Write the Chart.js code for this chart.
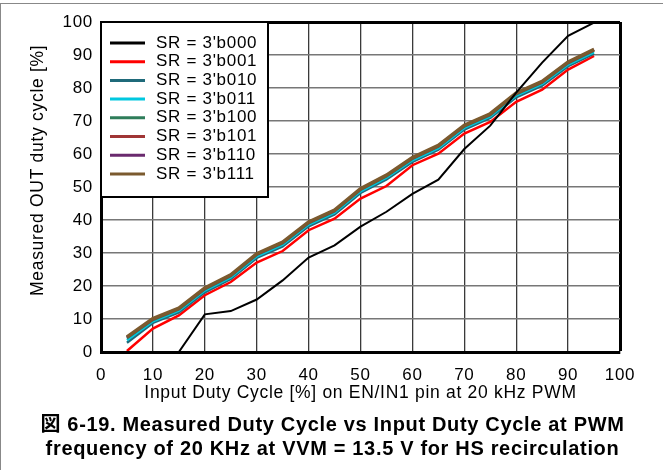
<!DOCTYPE html>
<html>
<head>
<meta charset="utf-8">
<script src="https://cdn.jsdelivr.net/npm/chart.js@4.4.1/dist/chart.umd.min.js"></script>
<style>
    body { margin: 0; background: #fff; overflow: hidden; }
    #wrap { position: relative; width: 663px; height: 470px; }
    #frame { position: absolute; left: 0; top: 3px; width: 663px; height: 467px;
             border-top: 1.5px solid #888; border-left: 1.5px solid #888; box-sizing: border-box; pointer-events: none; }
    #caption { position: absolute; left: 0; top: 412px; width: 663px; text-align: center;
               font: bold 20px/24px "Liberation Sans", Arial, "Noto Sans CJK JP", sans-serif;
               letter-spacing: 0.67px; color: #000; padding-left: 2px; box-sizing: border-box; }
</style>
</head>
<body>
<div id="wrap">
    <canvas id="chart"></canvas>
    <div id="frame"></div>
    <div id="caption">図 6-19. Measured Duty Cycle vs Input Duty Cycle at PWM<br>frequency of 20 KHz at VVM = 13.5 V for HS recirculation</div>
</div>
<script>
const inputDuty = [5, 10, 15, 20, 25, 30, 35, 40, 45, 50, 55, 60, 65, 70, 75, 80, 85, 90, 95];

const sr000 = [0, 0, 0, 11.4, 12.4, 15.9, 21.7, 28.6, 32.3, 38.0, 42.5, 47.9, 52.2, 61.5, 68.6, 78.6, 87.7, 95.8, 99.8];
const sr001 = [0.3, 7.1, 11.1, 17.2, 21.2, 27.1, 30.6, 36.9, 40.4, 46.5, 50.3, 56.6, 60.1, 66.2, 69.7, 75.8, 79.5, 85.6, 89.7];
const sr010 = [2.8, 8.8, 12.0, 18.1, 22.1, 28.5, 32.0, 38.1, 41.7, 48.2, 52.3, 57.6, 61.3, 67.4, 70.9, 77.2, 80.7, 86.6, 90.4];
const sr011 = [3.6, 9.3, 12.5, 18.6, 22.6, 29.0, 32.5, 38.6, 42.2, 48.7, 52.8, 58.1, 61.8, 67.9, 71.4, 77.7, 81.2, 87.1, 90.9];
const sr100 = [4.2, 9.7, 12.9, 19.0, 23.0, 29.4, 32.9, 39.0, 42.6, 49.1, 53.2, 58.5, 62.2, 68.3, 71.8, 78.1, 81.6, 87.5, 91.3];
const sr101 = [4.4, 9.9, 13.1, 19.2, 23.2, 29.6, 33.1, 39.2, 42.8, 49.3, 53.4, 58.7, 62.4, 68.5, 72.0, 78.3, 81.8, 87.7, 91.5];
const sr110 = [4.5, 10.0, 13.2, 19.3, 23.3, 29.7, 33.2, 39.3, 42.9, 49.4, 53.5, 58.8, 62.5, 68.6, 72.1, 78.4, 81.9, 87.8, 91.6];
const sr111 = [4.6, 10.1, 13.3, 19.4, 23.4, 29.8, 33.3, 39.4, 43.0, 49.5, 53.6, 58.9, 62.6, 68.7, 72.2, 78.5, 82.0, 87.9, 91.7];

const seriesLabels = ["SR = 3'b000", "SR = 3'b001", "SR = 3'b010", "SR = 3'b011",
                      "SR = 3'b100", "SR = 3'b101", "SR = 3'b110", "SR = 3'b111"];
const xTicks = [0, 10, 20, 30, 40, 50, 60, 70, 80, 90, 100];
const yTicks = [0, 10, 20, 30, 40, 50, 60, 70, 80, 90, 100];

const FONT = '"Liberation Sans", Arial, sans-serif';
const SPACING = '0.7px';

function pts(values) {
    return values.map((v, i) => ({ x: inputDuty[i], y: v }));
}

// the source figure has wide-set text, so spread the letters a bit
const spacedText = {
    id: 'spacedText',
    beforeLayout(chart) { chart.ctx.letterSpacing = SPACING; },
    beforeDraw(chart) { chart.ctx.letterSpacing = SPACING; }
};

// legend box drawn inside the plot, top-left
const legendBox = {
    id: 'legendBox',
    afterDatasetsDraw(chart) {
        const { ctx, chartArea } = chart;
        const x0 = chartArea.left, y0 = chartArea.top;
        ctx.save();
        ctx.fillStyle = '#fff';
        ctx.fillRect(x0, y0, 167, 175);
        ctx.strokeStyle = '#000';
        ctx.lineWidth = 2;
        ctx.strokeRect(x0, y0, 167, 175);
        ctx.font = '17px ' + FONT;
        ctx.letterSpacing = SPACING;
        ctx.textBaseline = 'middle';
        chart.data.datasets.forEach((ds, i) => {
            const y = y0 + 21 + i * 18.7;
            ctx.strokeStyle = ds.borderColor;
            ctx.lineWidth = 3;
            ctx.beginPath();
            ctx.moveTo(x0 + 9, y);
            ctx.lineTo(x0 + 44, y);
            ctx.stroke();
            ctx.fillStyle = '#000';
            ctx.fillText(ds.label, x0 + 55, y);
        });
        ctx.restore();
    }
};

const colors = ['#000000', '#ff0000', '#1f6a7a', '#00c8e0', '#2e7d5a', '#a03535', '#6a2a6e', '#7b5a2e'];
const widths = [2, 2.5, 2.5, 2.5, 2.5, 2.5, 2.5, 3.5];
const orders = [0, 7, 6, 5, 4, 3, 2, 1];
const allSeries = [sr000, sr001, sr010, sr011, sr100, sr101, sr110, sr111];

new Chart(document.getElementById('chart'), {
    type: 'line',
    data: {
        datasets: allSeries.map((s, i) => ({
            label: seriesLabels[i],
            data: pts(s),
            borderColor: colors[i],
            backgroundColor: colors[i],
            borderWidth: widths[i],
            pointRadius: 0,
            tension: 0,
            order: orders[i]
        }))
    },
    options: {
        responsive: true,
        maintainAspectRatio: false,
        animation: false,
        layout: { padding: { left: 28, right: 43, top: 22, bottom: 68 } },
        plugins: {
            legend: { display: false },
            tooltip: { enabled: false }
        },
        scales: {
            x: {
                type: 'linear',
                min: 0,
                max: 100,
                afterFit(scale) { scale.height = 50; },
                afterBuildTicks(scale) { scale.ticks = xTicks.map(v => ({ value: v })); },
                ticks: { font: { family: FONT, size: 17 }, color: '#000', padding: 13, maxRotation: 0 },
                grid: {
                    drawTicks: false,
                    color: ctx => ctx.tick && ctx.tick.value === 100 ? '#000' : '#3a3a3a',
                    lineWidth: ctx => ctx.tick && ctx.tick.value === 100 ? 3 : 1.3
                },
                border: { display: true, color: '#000', width: 3 },
                title: {
                    display: true,
                    text: 'Input Duty Cycle [%] on EN/IN1 pin at 20 kHz PWM',
                    font: { family: FONT, size: 17.5 },
                    color: '#000',
                    padding: { top: 0, bottom: -2 }
                }
            },
            y: {
                min: 0,
                max: 100,
                afterFit(scale) { scale.width = 73; },
                afterBuildTicks(scale) { scale.ticks = yTicks.map(v => ({ value: v })); },
                ticks: { font: { family: FONT, size: 17 }, color: '#000', padding: 8 },
                grid: {
                    drawTicks: false,
                    color: ctx => ctx.tick && ctx.tick.value === 100 ? '#000' : '#777',
                    lineWidth: ctx => ctx.tick && ctx.tick.value === 100 ? 3 : 1.6
                },
                border: { display: true, color: '#000', width: 3 },
                title: {
                    display: true,
                    // leading spaces push the rotated title up, as in the source figure
                    text: '      Measured OUT duty cycle [%]',
                    font: { family: FONT, size: 17.5 },
                    color: '#000',
                    padding: { top: 0, bottom: 0 }
                }
            }
        }
    },
    plugins: [spacedText, legendBox]
});
</script>
</body>
</html>
